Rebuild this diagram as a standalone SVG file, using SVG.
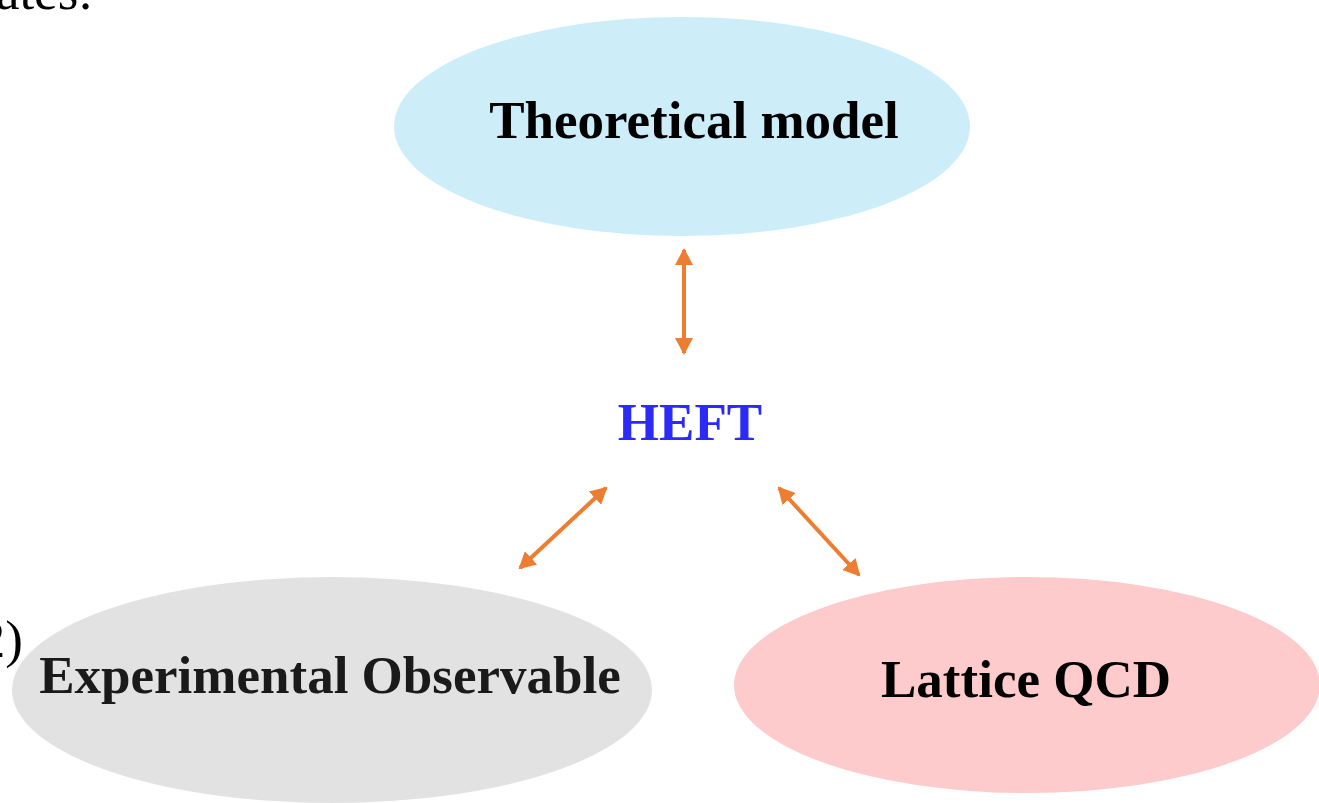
<svg xmlns="http://www.w3.org/2000/svg" width="1319" height="803" viewBox="0 0 1319 803">
  <style>
    .lbl { font-family: "Liberation Serif", "Times New Roman", serif; font-weight: bold; font-size: 53px; text-anchor: middle; fill: #000; }
    .page { font-family: "Liberation Serif", "Times New Roman", serif; font-size: 53px; fill: #000; }
    .link { stroke: #ed7d31; stroke-width: 4; fill: none; marker-start: url(#head); marker-end: url(#head); }
  </style>
  <defs>
    <marker id="head" viewBox="0 0 17 18" refX="15" refY="9" markerWidth="17" markerHeight="18" markerUnits="userSpaceOnUse" orient="auto-start-reverse">
      <path d="M0,0 L17,9 L0,18 Z" fill="#ed7d31"/>
    </marker>
  </defs>
  <rect width="1319" height="803" fill="#fff"/>

  <!-- running text of the surrounding page -->
  <text class="page" x="93" y="9" text-anchor="end">ates:</text>
  <text class="page" x="23" y="657" text-anchor="end">2)</text>

  <g id="theory">
    <ellipse cx="682" cy="126.5" rx="288" ry="109.5" fill="#cdeef9"/>
    <text class="lbl" x="694" y="138">Theoretical model</text>
  </g>

  <g id="heft">
    <text class="lbl" x="690" y="440" style="fill:#2b2bf5">HEFT</text>
  </g>

  <g id="experiment">
    <ellipse cx="332" cy="690" rx="320" ry="113" fill="#e2e2e2"/>
    <text class="lbl" x="330" y="693" style="fill:#1a1a1a">Experimental Observable</text>
  </g>

  <g id="lattice">
    <ellipse cx="1027" cy="685" rx="293" ry="108" fill="#fdcbcb"/>
    <text class="lbl" x="1026" y="697">Lattice QCD</text>
  </g>

  <g id="connectors">
    <line class="link" x1="684" y1="250" x2="684" y2="353"/>
    <line class="link" x1="606" y1="488" x2="520" y2="568"/>
    <line class="link" x1="779" y1="488" x2="859" y2="575"/>
  </g>
</svg>
